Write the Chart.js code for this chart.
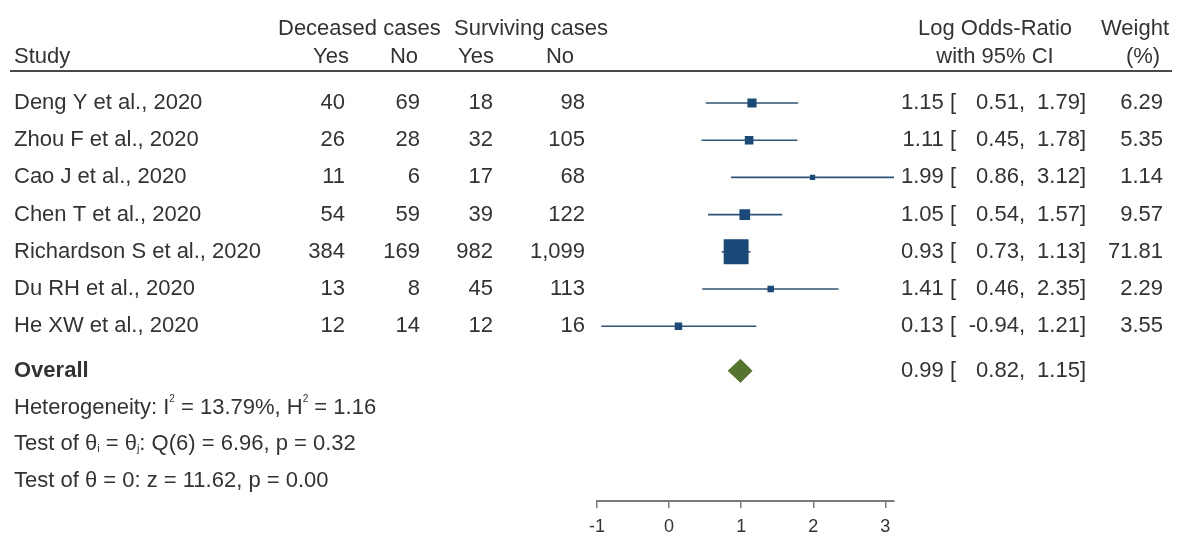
<!DOCTYPE html>
<html>
<head>
<meta charset="utf-8">
<script src="https://cdn.jsdelivr.net/npm/chart.js@4.4.1/dist/chart.umd.min.js"></script>
<style>
  html, body { margin: 0; padding: 0; background: #fff; }
  canvas { display: block; }
</style>
</head>
<body>
<canvas id="forest" width="1178" height="536"></canvas>
<script>
// ---- study table ----
const studies = [
  "Deng Y et al., 2020",
  "Zhou F et al., 2020",
  "Cao J et al., 2020",
  "Chen T et al., 2020",
  "Richardson S et al., 2020",
  "Du RH et al., 2020",
  "He XW et al., 2020"
];
const deceasedYes  = [40, 26, 11, 54, 384, 13, 12];
const deceasedNo   = [69, 28, 6, 59, 169, 8, 14];
const survivingYes = [18, 32, 17, 39, 982, 45, 12];
const survivingNo  = [98, 105, 68, 122, 1099, 113, 16];

// ---- effect sizes (log odds-ratio, 95% CI) and weights (%) ----
const logOR   = [1.15, 1.11, 1.99, 1.05, 0.93, 1.41, 0.13];
const ciLow   = [0.51, 0.45, 0.86, 0.54, 0.73, 0.46, -0.94];
const ciHigh  = [1.79, 1.78, 3.12, 1.57, 1.13, 2.35, 1.21];
const weights = [6.29, 5.35, 1.14, 9.57, 71.81, 2.29, 3.55];

// ---- pooled estimate ----
const overallEst  = [0.99];
const overallLow  = [0.82];
const overallHigh = [1.15];

// ---- heterogeneity and tests ----
const hetI2 = 13.79, hetH2 = 1.16;
const qStat = 6.96, qDf = 6, qP = 0.32;
const zStat = 11.62, zP = 0.00;

// ---- axis ----
const xTicks = [-1, 0, 1, 2, 3];

// ---- look ----
const FONT = '"Liberation Sans", Arial, Helvetica, sans-serif';
const FS = 22;
const TEXT = '#333333';
const NAVY = '#1a4a78';
const CI_COLOR = '#2f5476';
const GREEN = '#55752f';

// row slots on the y scale (study i sits at i)
const HEAD1_ROW = -2.0, HEAD2_ROW = -1.25, RULE_ROW = -0.86;
const OVERALL_ROW = 7.2;
const STAT_ROWS = [8.2, 9.17, 10.15];
const DIAMOND_HALF = 0.31;

// text column anchors
const COL_STUDY = 14;
const COL_RIGHT = [345, 420, 493, 585];
const CI_EST = 956, CI_LO = 1025, CI_HI = 1086, COL_WEIGHT = 1163;

const fmt2 = v => v.toFixed(2);
const fmtInt = v => v.toLocaleString('en-US');

// confidence-interval whiskers, one small line per study
const ciSets = studies.map((s, i) => ({
  type: 'scatter',
  label: s + ' CI',
  data: [{ x: ciLow[i], y: i }, { x: ciHigh[i], y: i }],
  showLine: true,
  borderColor: CI_COLOR,
  borderWidth: 1.6,
  pointRadius: 0,
  order: 3,
  clip: false
}));

// weighted study markers: outlined squares whose area follows the weight
const markerSet = {
  type: 'scatter',
  label: 'Study estimate',
  data: logOR.map((v, i) => ({ x: v, y: i })),
  pointStyle: 'rect',
  pointRadius: weights.map(w => 1.87 * Math.sqrt(w)),
  backgroundColor: NAVY,
  borderColor: NAVY,
  borderWidth: 2.5,
  order: 1,
  clip: false
};

// pooled diamond
const diamondSet = {
  type: 'scatter',
  label: 'Overall',
  data: [
    { x: overallLow[0],  y: OVERALL_ROW },
    { x: overallEst[0],  y: OVERALL_ROW - DIAMOND_HALF },
    { x: overallHigh[0], y: OVERALL_ROW },
    { x: overallEst[0],  y: OVERALL_ROW + DIAMOND_HALF },
    { x: overallLow[0],  y: OVERALL_ROW }
  ],
  showLine: true,
  fill: 'shape',
  backgroundColor: GREEN,
  borderColor: GREEN,
  borderWidth: 1,
  pointRadius: 0,
  tension: 0,
  order: 1,
  clip: false
};

// text columns of the table
const tablePlugin = {
  id: 'forestTable',
  afterDraw(chart) {
    const ctx = chart.ctx;
    const ys = chart.scales.y;
    const py = r => ys.getPixelForValue(r);
    const f = (size, bold) => (bold ? 'bold ' : '') + size + 'px ' + FONT;

    ctx.save();
    ctx.fillStyle = TEXT;
    ctx.textBaseline = 'middle';

    const put = (s, x, row, align, bold) => {
      ctx.font = f(FS, bold);
      ctx.textAlign = align || 'left';
      ctx.fillText(s, x, py(row));
    };

    // mixed text with raised / lowered small pieces
    const rich = (parts, x, row) => {
      let cx = x;
      const yb = py(row);
      ctx.textAlign = 'left';
      parts.forEach(p => {
        if (p.sup) {
          ctx.font = f(10);
          ctx.fillText(p.t, cx, yb - 9);
        } else if (p.sub) {
          ctx.font = f(11);
          ctx.fillText(p.t, cx, yb + 5);
        } else {
          ctx.font = f(FS);
          ctx.fillText(p.t, cx, yb);
        }
        cx += ctx.measureText(p.t).width;
      });
    };

    // headers
    put('Deceased cases', 278, HEAD1_ROW, 'left');
    put('Surviving cases', 454, HEAD1_ROW, 'left');
    put('Study', COL_STUDY, HEAD2_ROW, 'left');
    put('Yes', 331, HEAD2_ROW, 'center');
    put('No', 404, HEAD2_ROW, 'center');
    put('Yes', 476, HEAD2_ROW, 'center');
    put('No', 560, HEAD2_ROW, 'center');
    put('Log Odds-Ratio', 995, HEAD1_ROW, 'center');
    put('with 95% CI', 995, HEAD2_ROW, 'center');
    put('Weight', 1135, HEAD1_ROW, 'center');
    put('(%)', 1143, HEAD2_ROW, 'center');

    // rule under the headers
    ctx.strokeStyle = '#4a4a4a';
    ctx.lineWidth = 2;
    ctx.beginPath();
    ctx.moveTo(10, py(RULE_ROW));
    ctx.lineTo(1172, py(RULE_ROW));
    ctx.stroke();

    // study rows
    studies.forEach((s, i) => {
      put(s, COL_STUDY, i, 'left');
      put(fmtInt(deceasedYes[i]), COL_RIGHT[0], i, 'right');
      put(fmtInt(deceasedNo[i]), COL_RIGHT[1], i, 'right');
      put(fmtInt(survivingYes[i]), COL_RIGHT[2], i, 'right');
      put(fmtInt(survivingNo[i]), COL_RIGHT[3], i, 'right');
      put(fmt2(logOR[i]) + ' [', CI_EST, i, 'right');
      put(fmt2(ciLow[i]) + ',', CI_LO, i, 'right');
      put(fmt2(ciHigh[i]) + ']', CI_HI, i, 'right');
      put(fmt2(weights[i]), COL_WEIGHT, i, 'right');
    });

    // pooled row
    put('Overall', COL_STUDY, OVERALL_ROW, 'left', true);
    put(fmt2(overallEst[0]) + ' [', CI_EST, OVERALL_ROW, 'right');
    put(fmt2(overallLow[0]) + ',', CI_LO, OVERALL_ROW, 'right');
    put(fmt2(overallHigh[0]) + ']', CI_HI, OVERALL_ROW, 'right');

    // heterogeneity and tests
    rich([
      { t: 'Heterogeneity: I' }, { t: '2', sup: true },
      { t: ' = ' + fmt2(hetI2) + '%, H' }, { t: '2', sup: true },
      { t: ' = ' + fmt2(hetH2) }
    ], COL_STUDY, STAT_ROWS[0]);
    rich([
      { t: 'Test of \u03b8' }, { t: 'i', sub: true },
      { t: ' = \u03b8' }, { t: 'j', sub: true },
      { t: ': Q(' + qDf + ') = ' + fmt2(qStat) + ', p = ' + fmt2(qP) }
    ], COL_STUDY, STAT_ROWS[1]);
    rich([
      { t: 'Test of \u03b8 = 0: z = ' + fmt2(zStat) + ', p = ' + fmt2(zP) }
    ], COL_STUDY, STAT_ROWS[2]);

    ctx.restore();
  }
};

new Chart(document.getElementById('forest'), {
  type: 'scatter',
  data: { datasets: [...ciSets, markerSet, diamondSet] },
  options: {
    responsive: false,
    devicePixelRatio: 1,
    animation: false,
    events: [],
    layout: {
      autoPadding: false,
      padding: { left: 597, right: 284, top: 0, bottom: -10 }
    },
    plugins: {
      legend: { display: false },
      tooltip: { enabled: false },
      title: { display: false }
    },
    scales: {
      x: {
        type: 'linear',
        min: xTicks[0],
        max: Math.max(...ciHigh),
        offset: false,
        afterBuildTicks: axis => { axis.ticks = xTicks.map(v => ({ value: v })); },
        ticks: {
          includeBounds: false,
          color: TEXT,
          padding: 10,
          font: { family: FONT, size: 18, lineHeight: 1 },
          callback: v => String(v)
        },
        grid: {
          display: true,
          drawOnChartArea: false,
          drawTicks: true,
          tickLength: 7,
          color: '#7a7a7a',
          lineWidth: 1.5
        },
        border: { display: true, color: '#7a7a7a', width: 2 }
      },
      y: {
        type: 'linear',
        display: false,
        reverse: true,
        min: -2.77,
        max: 10.7
      }
    }
  },
  plugins: [tablePlugin]
});
</script>
</body>
</html>
